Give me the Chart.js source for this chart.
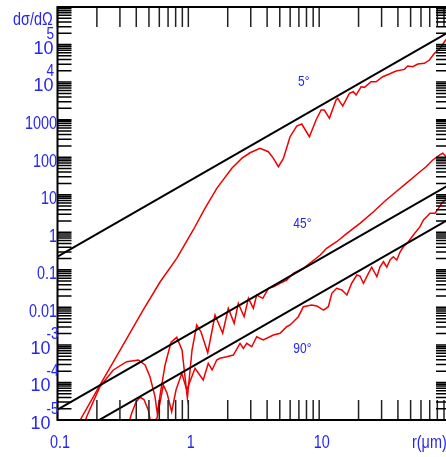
<!DOCTYPE html>
<html>
<head>
<meta charset="utf-8">
<script src="https://cdn.jsdelivr.net/npm/chart.js@4.4.1/dist/chart.umd.min.js"></script>
<style>
  html, body { margin: 0; padding: 0; background: #fff; overflow: hidden; }
  canvas { display: block; }
</style>
</head>
<body>
<canvas id="grafico" width="460" height="457"></canvas>
<script>
// raio (um) e dsigma/dOmega
const r5 = [0.149, 0.211, 0.301, 0.451, 0.608, 0.815, 1.09, 1.34, 1.65, 2.15, 2.56, 2.96, 3.53, 4.09, 4.47, 4.88, 5.33, 5.99, 6.74, 7.36, 8.42, 9.47, 10.35, 10.96, 11.97, 13.46, 13.87, 15.14, 17.02, 18.25, 19.15, 20.9, 22.2, 24.9, 27.2, 30.6, 34.4, 38.7, 44.8, 47.5, 52.0, 56.7, 63.7, 69.6, 76.0, 83.0, 90.6, 100];
const s5 = [1e-5, 8.55e-5, 7.31e-4, 8.49e-3, 0.0473, 0.202, 1.15, 4.34, 14.8, 50.5, 93, 131, 172, 140, 93, 55.7, 93, 351, 676, 764, 351, 976, 1803, 1803, 1084, 3327, 3690, 2301, 5012, 5534, 4519, 7516, 7244, 10200, 10200, 13870, 16370, 19680, 21830, 26730, 25650, 30270, 31570, 38640, 58300, 74500, 118800, 179000];

const r45 = [0.162, 0.167, 0.211, 0.267, 0.338, 0.415, 0.467, 0.509, 0.556, 0.579, 0.608, 0.664, 0.738, 0.815, 0.895, 0.983, 1.067, 1.159, 1.25, 1.407, 1.60, 1.83, 2.02, 2.24, 2.41, 2.67, 2.88, 3.14, 3.33, 3.71, 4.09, 4.47, 5.02, 5.65, 6.35, 7.57, 8.77, 10.2, 11.4, 13.6, 16.3, 20.5, 26.0, 32.5, 38.7, 46.2, 55.1, 65.6, 73.9, 83.0, 88.1, 93.3, 100];
const s45 = [8.85e-6, 1.22e-5, 7.7e-5, 2.15e-4, 3.57e-4, 3.96e-4, 2.92e-4, 1.42e-4, 4.18e-5, 1.51e-5, 4.63e-5, 2.92e-4, 1.19e-3, 1.59e-3, 7.31e-4, 3.79e-5, 7.31e-4, 3.39e-3, 2.21e-3, 6.19e-4, 6.25e-3, 2.04e-3, 9.44e-3, 3.76e-3, 0.0128, 5.64e-3, 0.0174, 9.44e-3, 0.0213, 0.0174, 0.0321, 0.0355, 0.0436, 0.0535, 0.0807, 0.110, 0.164, 0.248, 0.374, 0.560, 0.938, 1.73, 3.52, 7.23, 12.0, 20.1, 33.5, 55.7, 84.0, 114, 127, 103, 95];

const r90 = [0.352, 0.369, 0.398, 0.428, 0.458, 0.494, 0.519, 0.577, 0.644, 0.687, 0.746, 0.805, 0.891, 0.973, 1.125, 1.30, 1.42, 1.52, 1.648, 1.746, 1.967, 2.208, 2.484, 2.633, 2.794, 3.05, 3.33, 3.74, 4.47, 5.02, 5.65, 5.99, 6.93, 7.57, 8.77, 9.59, 10.8, 11.75, 12.5, 13.6, 14.9, 16.3, 17.7, 19.4, 20.5, 21.8, 23.8, 25.2, 27.6, 29.2, 31.0, 32.9, 34.8, 36.9, 39.2, 41.6, 44.0, 48.1, 52.5, 59.0, 62.7, 70.4, 76.9, 81.5, 86.5, 94.6, 100];
const s90 = [8.85e-6, 1.51e-5, 3.01e-5, 4.03e-5, 3.52e-5, 1.85e-5, 7.8e-6, 1.13e-5, 8.55e-5, 5.24e-5, 1.66e-5, 6.29e-5, 1.75e-4, 6.29e-5, 2.38e-4, 1.16e-4, 3.24e-4, 2.15e-4, 3.96e-4, 4.4e-4, 4.85e-4, 5.38e-4, 1.10e-3, 8.1e-4, 1.10e-3, 8.95e-4, 1.65e-3, 1.35e-3, 1.84e-3, 2.04e-3, 3.05e-3, 3.39e-3, 5.64e-3, 0.0104, 0.0116, 0.0109, 8.49e-3, 0.0104, 0.0237, 0.0321, 0.0290, 0.0213, 0.0436, 0.0728, 0.0684, 0.0436, 0.0807, 0.117, 0.0655, 0.121, 0.164, 0.117, 0.182, 0.223, 0.182, 0.303, 0.412, 0.560, 0.845, 1.41, 2.12, 3.20, 3.20, 4.34, 5.90, 8.02, 9.8];

// retas de referencia ~ r^2
const retaR = [0.1, 100];
const reta1 = [0.225, 2.25e5];
const reta2 = [1.9e-5, 19];
const reta3 = [2.3e-6, 2.3];

const xTickValores = [0.1, 1, 10];
const xTickTextos = ['0.1', '1', '10'];
const yTickValores = [1e5, 1e4, 1000, 100, 10, 1, 0.1, 0.01, 1e-3, 1e-4, 1e-5];
const yTickTextos = ['10^5', '10^4', '1000', '100', '10', '1', '0.1', '0.01', '10^-3', '10^-4', '10^-5'];

const anotTextos = ['5°', '45°', '90°'];
const anotR = [6.9, 6.35, 6.35];
const anotS = [7850, 1.27, 5.97e-4];

const FONTE = '"Liberation Sans", Arial, sans-serif';
const AZUL = '#2626f2';

function pontos(xs, ys) {
    return xs.map((v, i) => ({ x: v, y: ys[i] }));
}

function texto(ctx, str, x, y, size, align, aperto) {
    // fonte estreita: aperta na horizontal
    ctx.save();
    ctx.font = size + 'px ' + FONTE;
    ctx.translate(x, y);
    ctx.scale(aperto || 0.8, 1);
    ctx.textAlign = align || 'left';
    ctx.textBaseline = 'alphabetic';
    ctx.fillStyle = AZUL;
    ctx.fillText(str, 0, 0);
    ctx.restore();
}

const moldura = {
    id: 'moldura',
    afterDraw(chart) {
        const { ctx, chartArea: a, scales: { x, y } } = chart;
        ctx.save();

        // 1. marcas (para dentro)
        ctx.strokeStyle = '#222';
        ctx.lineWidth = 1.5;
        ctx.beginPath();
        for (let d = -1; d <= 2; d++) {
            for (let m = 1; m <= 9; m++) {
                const v = m * Math.pow(10, d);
                if (v > 100) break;
                const px = x.getPixelForValue(v);
                ctx.moveTo(px, a.bottom); ctx.lineTo(px, a.bottom - 20);
                ctx.moveTo(px, a.top); ctx.lineTo(px, a.top + 20);
            }
        }
        ctx.stroke();
        ctx.strokeStyle = '#000';
        ctx.beginPath();
        for (let d = -5; d <= 6; d++) {
            for (let m = 1; m <= 9; m++) {
                const v = m * Math.pow(10, d);
                if (v > 1e6) break;
                const py = y.getPixelForValue(v);
                ctx.moveTo(a.left, py); ctx.lineTo(a.left + 14, py);
                ctx.moveTo(a.right, py); ctx.lineTo(a.right - 14, py);
            }
        }
        ctx.stroke();

        // 2. caixa
        ctx.lineWidth = 2;
        ctx.strokeRect(a.left, a.top, a.right - a.left, a.bottom - a.top);

        // 3. textos dos eixos
        yTickValores.forEach((v, i) => {
            const py = y.getPixelForValue(v);
            const t = yTickTextos[i];
            if (t.indexOf('^') >= 0) {
                const exp = t.split('^')[1];
                const neg = exp[0] === '-';
                texto(ctx, '10', neg ? 50.5 : 53.5, py + 9, 18, 'right', 1);
                texto(ctx, exp, 46.5, py - 6, 16, 'left', 0.85);
            } else {
                texto(ctx, t, 57, py + 9.5, 18, 'right');
            }
        });
        xTickValores.forEach((v, i) => {
            texto(ctx, xTickTextos[i], x.getPixelForValue(v) + 2.5, 448, 18, 'center');
        });
        texto(ctx, 'r(μm)', 412, 448, 18, 'left');
        texto(ctx, 'dσ/dΩ', 13, 25, 18, 'left');

        anotTextos.forEach((t, i) => {
            texto(ctx, t, x.getPixelForValue(anotR[i]), y.getPixelForValue(anotS[i]), 15, 'left');
        });
        ctx.restore();
    }
};

const estiloReta = { borderColor: '#000', borderWidth: 2, showLine: true, pointRadius: 0, clip: 0 };
const estiloCurva = { borderColor: '#f00000', borderWidth: 1.5, showLine: true, pointRadius: 0, clip: 0 };

new Chart(document.getElementById('grafico').getContext('2d'), {
    type: 'scatter',
    data: {
        datasets: [
            { ...estiloReta, data: pontos(retaR, reta1) },
            { ...estiloReta, data: pontos(retaR, reta2) },
            { ...estiloReta, data: pontos(retaR, reta3) },
            { ...estiloCurva, data: pontos(r5, s5) },
            { ...estiloCurva, data: pontos(r45, s45) },
            { ...estiloCurva, data: pontos(r90, s90) }
        ]
    },
    options: {
        responsive: false,
        animation: false,
        layout: { padding: { left: 57.5, top: 7, right: 10, bottom: 37 } },
        plugins: { legend: { display: false }, tooltip: { enabled: false } },
        scales: {
            x: { type: 'logarithmic', min: 0.1, max: 100, display: false },
            y: { type: 'logarithmic', min: 1e-5, max: 1e6, display: false }
        }
    },
    plugins: [moldura]
});
</script>
</body>
</html>
